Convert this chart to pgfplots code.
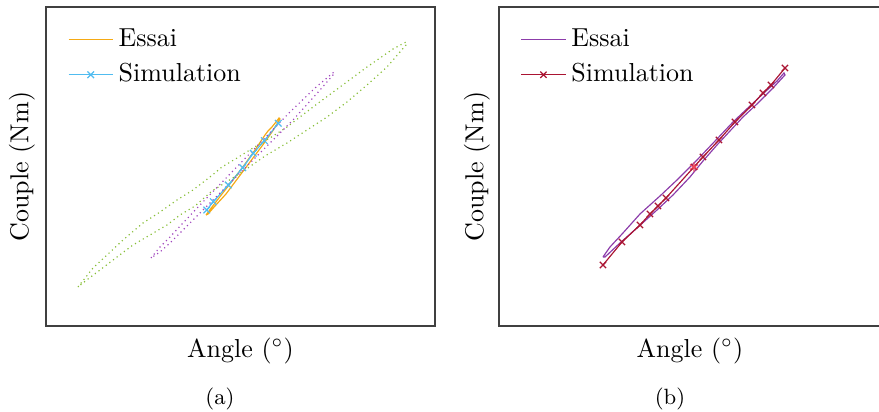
\documentclass[border=0pt]{standalone}
\usepackage{pgfplots}
\pgfplotsset{compat=1.18}
\definecolor{essaiA}{RGB}{245,170,20}
\definecolor{simA}{RGB}{80,188,240}
\definecolor{greenA}{RGB}{135,190,55}
\definecolor{purpA}{RGB}{160,70,190}
\definecolor{essaiB}{RGB}{140,60,170}
\definecolor{simB}{RGB}{170,20,50}
\definecolor{starB}{RGB}{240,70,90}
\pgfplotsset{
  myaxis/.style={
    scale only axis, height=122.69pt,
    ymin=7, ymax=326, y dir=reverse,
    xtick=\empty, ytick=\empty,
    axis line style={black!75},
    xlabel={Angle ($^\circ$)}, ylabel={Couple (Nm)},
    xlabel style={at={(axis description cs:0.5,-0.078)}, anchor=center},
    legend cell align=left,
    legend style={draw=none, fill=none, font=\normalsize, row sep=1pt},
  },
  dotline/.style={line width=0.45pt, dash pattern=on 0.45pt off 1.3pt},
}
\begin{document}
\begin{tikzpicture}
\useasboundingbox (0pt,0pt) rectangle (338.08pt,-158.08pt);
% ---------------- (a) ----------------
\begin{axis}[myaxis, at={(17.69pt,-2.69pt)}, anchor=north west,
  width=149.62pt, xmin=46, xmax=435,
  ylabel style={at={(axis description cs:-0.062,0.5)}, anchor=center},
  legend style={at={(axis description cs:0.035,0.965)}, anchor=north west}]
\addplot[essaiA, line width=0.45pt] coordinates {
(206,215) (212,207) (222,194) (233,180) (245,164) (255,150) (265,135) (268,131) (272,127) (276,122) (279,118)
(280,119) (272,132) (262,146) (250,162) (238,178) (226,194) (215,206) (208,214) (206,215)};
\addlegendentry{Essai}
\addplot[simA, line width=0.45pt, mark=x, mark size=1.8pt] coordinates {
(206.7,210) (213.3,201.7) (228.3,185) (242.7,167.7) (253.3,153.3) (264.3,140.7) (278.3,123.3)};
\addlegendentry{Simulation}
\addplot[greenA, dotline, forget plot] coordinates {
(78,287) (93,268) (107,255) (123,240) (143,223) (160,212) (177,200) (193,190) (210,177) (222,167) (237,158) (253,148) (270,138) (287,127) (313,107) (340,87) (367,67) (393,49) (406,42)
(406,45) (387,67) (367,85) (347,102) (327,117) (307,130) (287,143) (265,156) (245,170) (228,181) (212,191) (195,206) (180,215) (167,225) (150,235) (133,245) (117,257) (100,270) (88,279) (78,287)};
\addplot[purpA, dotline, forget plot] coordinates {
(151,258) (160,247) (170,237) (183,223) (200,205) (230,174) (260,143) (290,112) (315,88) (334,72)
(333,75) (320,90) (293,120) (260,153) (230,183) (200,213) (183,230) (170,243) (160,252) (151,258)};
\end{axis}
% ---------------- (b) ----------------
\begin{axis}[myaxis, at={(191.92pt,-2.69pt)}, anchor=north west,
  width=146.92pt, xmin=499, xmax=881,
  ylabel style={at={(axis description cs:-0.058,0.5)}, anchor=center},
  legend style={at={(axis description cs:0.035,0.965)}, anchor=north west}]
\addplot[essaiB, line width=0.45pt] coordinates {
(603,257) (610,247) (623,233) (640,214) (660,196) (677,180) (697,160) (717,139) (733,122) (750,106) (765,92) (777,81) (784,73)
(785,75) (773,88) (757,104) (743,117) (730,131) (717,145) (703,161) (690,177) (673,195) (657,210) (637,228) (620,243) (605,257) (603,257)};
\addlegendentry{Essai}
\addplot[simB, line width=0.45pt, mark=x, mark size=1.7pt] coordinates {
(603,265) (622,242) (640,225) (650,214) (658,206) (666,198) (694,167) (703,157) (719,140) (735,122) (752,105) (763,93) (771,85) (785,68)};
\addlegendentry{Simulation}
\addplot[starB, only marks, mark=asterisk, mark size=1.8pt, forget plot] coordinates {(694,167)};
\end{axis}
\node[font=\fontsize{8.5}{10}\selectfont] at (84.62pt,-153.27pt) {(a)};
\node[font=\fontsize{8.5}{10}\selectfont] at (257.69pt,-153.27pt) {(b)};
\end{tikzpicture}
\end{document}
